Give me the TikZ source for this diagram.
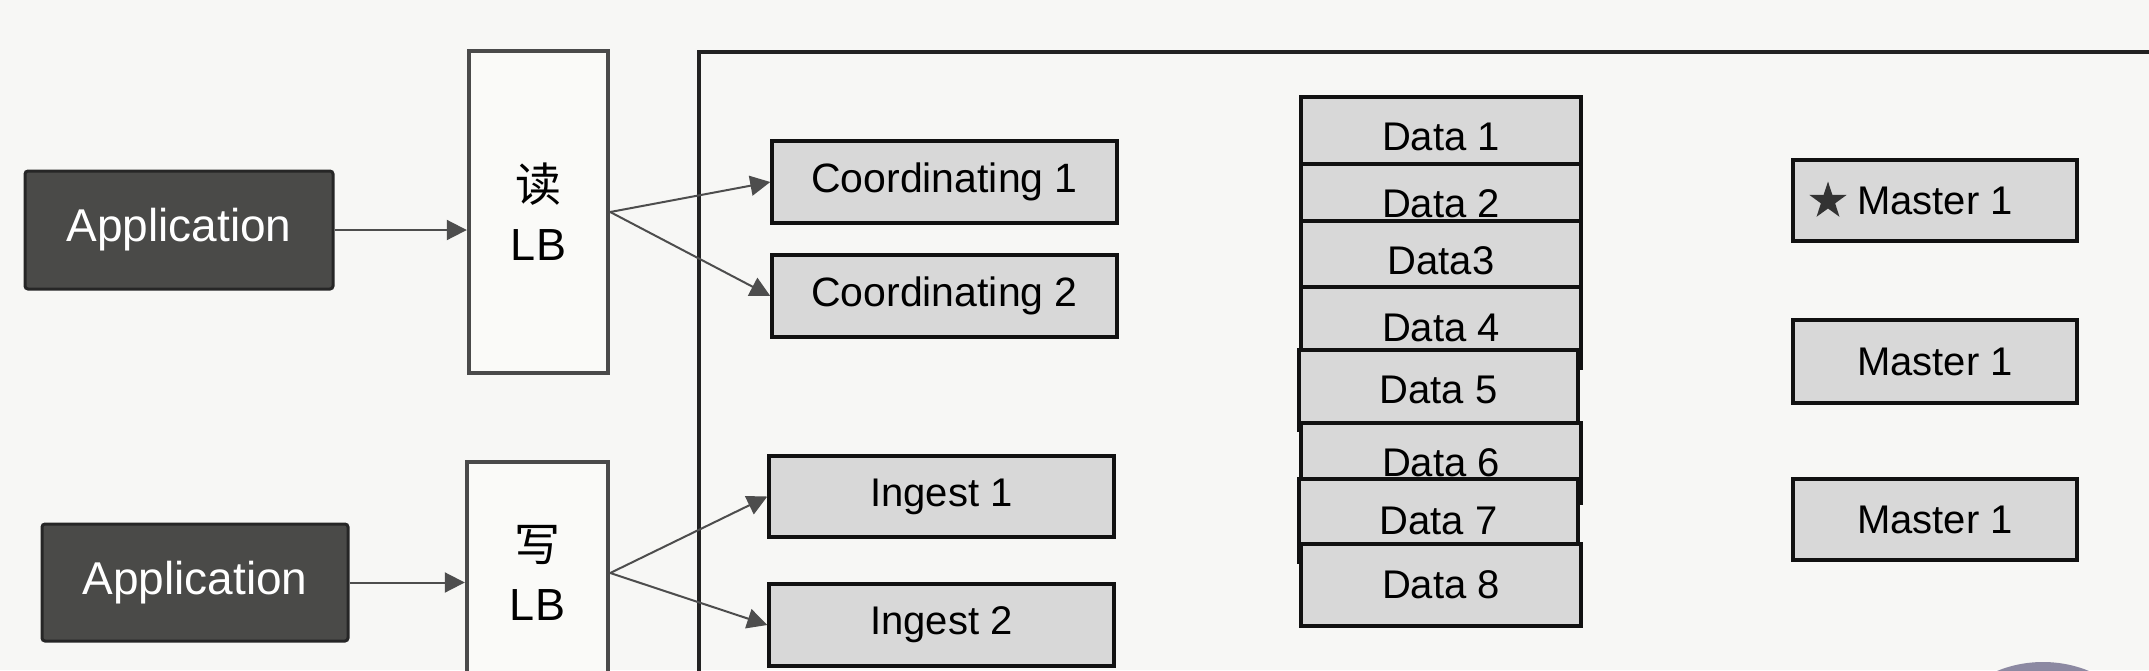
\documentclass[tikz,border=0pt]{standalone}
\usepackage{fontspec}
\setmainfont{Liberation Sans}
\newfontfamily\cjk{Noto Sans CJK SC}
\usetikzlibrary{arrows.meta,shapes.geometric}
\definecolor{bg}{HTML}{F7F7F5}
\definecolor{appfill}{HTML}{4A4A48}
\definecolor{appdraw}{HTML}{262626}
\definecolor{lbdraw}{HTML}{4A4A4A}
\definecolor{lbfill}{HTML}{FAFAF8}
\definecolor{boxfill}{HTML}{D8D8D8}
\definecolor{boxdraw}{HTML}{111111}
\definecolor{arrowc}{HTML}{4D4D4D}
\definecolor{framec}{HTML}{222222}
\definecolor{starc}{HTML}{333333}
\definecolor{avatar}{HTML}{8C89A2}
\newcommand\placebox[7]{\node[#1, minimum width={(#5-#3)*0.5pt}, minimum height={(#6-#4)*0.5pt}] (#2) at ({(#3+#5)/2},{(#4+#6)/2}) {#7};}
\begin{document}
\begin{tikzpicture}[x=0.5pt,y=-0.5pt,
  appbox/.style={draw=appdraw, fill=appfill, line width=1.5pt, rounded corners=1.5pt, text=white, inner sep=0pt, font=\fontsize{23}{27}\selectfont},
  lbbox/.style={draw=lbdraw, fill=lbfill, line width=2.2pt, inner sep=0pt, align=center, font=\fontsize{22.5}{29.5}\selectfont},
  graybox/.style={draw=boxdraw, fill=boxfill, line width=1.7pt, inner sep=0pt, font=\fontsize{20}{24}\selectfont},
  link/.style={draw=arrowc, line width=1pt, -{Triangle[length=10pt,width=10pt]}}
]
\useasboundingbox (0,0) rectangle (2149,670);
\fill[bg] (0,0) rectangle (2149,670);
\clip (0,0) rectangle (2149,670);

% cluster frame
\draw[draw=framec, line width=2pt] (699,720) |- (2200,52);

% applications and load balancers
\placebox{appbox}{app1}{25}{171}{333}{289}{Application}
\placebox{appbox}{app2}{42}{524}{348}{641}{Application}
\placebox{lbbox}{rlb}{469}{51}{608}{373}{{\cjk\fontsize{23}{29.5}\selectfont 读}\\LB}
\placebox{lbbox}{wlb}{467}{462}{608}{684}{{\cjk\fontsize{23}{29.5}\selectfont 写}\\LB}

% coordinating / ingest
\placebox{graybox}{coord1}{772}{141}{1117}{223}{\fontsize{20.5}{24}\selectfont Coordinating 1}
\placebox{graybox}{coord2}{772}{255}{1117}{337}{\fontsize{20.5}{24}\selectfont Coordinating 2}
\placebox{graybox}{ing1}{769}{456}{1114}{537}{Ingest 1}
\placebox{graybox}{ing2}{769}{584}{1114}{666}{Ingest 2}

% data nodes (overlapping stack)
\placebox{graybox}{d1}{1301}{97}{1581}{177}{Data 1}
\placebox{graybox}{d2}{1301}{164}{1581}{244}{Data 2}
\placebox{graybox}{d3}{1301}{221}{1581}{301}{Data3}
\placebox{graybox}{d4}{1301}{287}{1581}{368}{Data 4}
\placebox{graybox}{d5}{1299}{350}{1578}{430}{Data 5}
\placebox{graybox}{d6}{1301}{423}{1581}{503}{Data 6}
\placebox{graybox}{d7}{1299}{479}{1578}{562}{Data 7}
\placebox{graybox}{d8}{1301}{544}{1581}{626}{Data 8}

% master nodes
\placebox{graybox}{m1}{1793}{160}{2077}{241}{Master 1}
\placebox{graybox}{m2}{1793}{320}{2077}{403}{Master 1}
\placebox{graybox}{m3}{1793}{479}{2077}{560}{Master 1}
\node[star, star points=5, star point ratio=2.6, fill=starc, minimum size=19.5pt, inner sep=0pt] (mstar) at (1828,201) {};

% connectors
\draw[link] (app1.east) -- (app1.east -| rlb.west);
\draw[link] (app2.east) -- (app2.east -| wlb.west);
\draw[link] (rlb.east) -- (coord1.west);
\draw[link] (rlb.east) -- (coord2.west);
\draw[link] (wlb.east) -- (ing1.west);
\draw[link] (wlb.east) -- (ing2.west);

% partial avatar circle at the bottom edge
\fill[avatar] (2043,784) circle[radius=61pt];
\end{tikzpicture}
\end{document}
